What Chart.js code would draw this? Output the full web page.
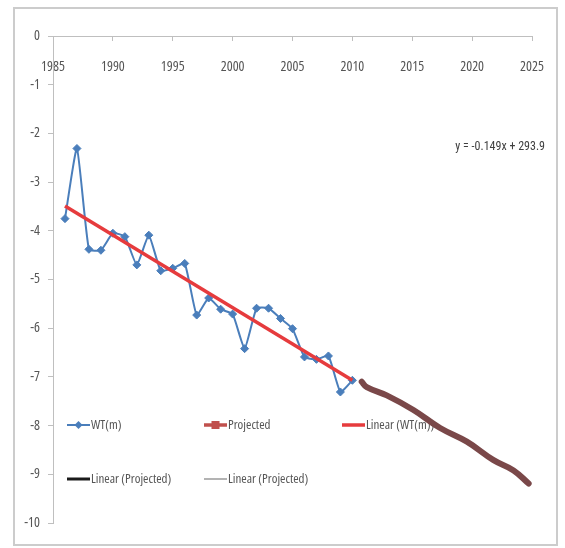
<!DOCTYPE html>
<html>
<head>
<meta charset="utf-8">
<script src="https://cdn.jsdelivr.net/npm/chart.js@4.4.1/dist/chart.umd.min.js"></script>
<style>
  html, body { margin: 0; padding: 0; background: #ffffff; }
  #wrap { width: 565px; height: 548px; }
</style>
</head>
<body>
<div id="wrap"><canvas id="c" width="565" height="548"></canvas></div>
<script>
// Water table depth (m) by year
const wtYears = [1986, 1987, 1988, 1989, 1990, 1991, 1992, 1993, 1994, 1995, 1996, 1997, 1998,
                 1999, 2000, 2001, 2002, 2003, 2004, 2005, 2006, 2007, 2008, 2009, 2010];
const wtValues = [-3.75, -2.31, -4.38, -4.40, -4.05, -4.12, -4.70, -4.09, -4.82, -4.77, -4.67, -5.73, -5.38,
                  -5.61, -5.71, -6.42, -5.59, -5.59, -5.80, -6.01, -6.59, -6.64, -6.57, -7.31, -7.07];

// Linear trend of WT(m), end points
const trendYears = [1986, 2010];
const trendValues = [-3.49, -7.07];

// Hand-sketched projection to 2025
const projYears = [2010.78, 2011.2, 2012.87, 2015.1, 2017.33, 2019.56, 2021.79, 2023.46, 2024.72];
const projValues = [-7.10, -7.21, -7.38, -7.68, -8.05, -8.33, -8.71, -8.92, -9.19];

// Axis ticks
const xTicks = [1985, 1990, 1995, 2000, 2005, 2010, 2015, 2020, 2025];
const yTicks = [0, -1, -2, -3, -4, -5, -6, -7, -8, -9, -10];

const equationText = 'y = -0.149x + 293.9';

const FAMILY = '"Open Sans", sans-serif';
const LEGEND_FONT = 'condensed 13px ' + FAMILY;
const EQ_FONT = 'condensed 12px Roboto, sans-serif';
const BLUE = '#4a7ebb';
const RED = '#e63b3d';
const BROWN = '#7a4849';
const TEXT = '#555555';

const toPoints = (xs, ys) => xs.map((x, i) => ({ x: x, y: ys[i] }));

// Legend entries drawn inside the plot area (two columns)
const legendItems = [
  { text: 'WT(m)', x: 67, y: 425, color: BLUE, width: 2, marker: 'diamond' },
  { text: 'Projected', x: 204, y: 425, color: '#c0504d', width: 3.5, marker: 'square' },
  { text: 'Linear (WT(m))', x: 342, y: 425, color: RED, width: 3.5, marker: null },
  { text: 'Linear (Projected)', x: 67, y: 479, color: '#1a1a1a', width: 3, marker: null },
  { text: 'Linear (Projected)', x: 204, y: 479, color: '#9a9a9a', width: 1.5, marker: null }
];

const framePlugin = {
  id: 'frame',
  beforeDraw(chart) {
    const ctx = chart.ctx;
    ctx.save();
    ctx.fillStyle = '#ffffff';
    ctx.fillRect(0, 0, chart.width, chart.height);
    ctx.strokeStyle = '#cccccc';
    ctx.lineWidth = 2;
    ctx.strokeRect(14, 8, 543, 537);
    ctx.restore();
  },
  beforeDatasetsDraw(chart) {
    const ctx = chart.ctx;
    ctx.save();
    ctx.font = LEGEND_FONT;
    ctx.textBaseline = 'middle';
    legendItems.forEach(it => {
      ctx.strokeStyle = it.color;
      ctx.lineWidth = it.width;
      ctx.beginPath();
      ctx.moveTo(it.x, it.y);
      ctx.lineTo(it.x + 23, it.y);
      ctx.stroke();
      const cx = it.x + 11.5;
      ctx.fillStyle = it.color;
      if (it.marker === 'diamond') {
        ctx.beginPath();
        ctx.moveTo(cx, it.y - 4);
        ctx.lineTo(cx + 4, it.y);
        ctx.lineTo(cx, it.y + 4);
        ctx.lineTo(cx - 4, it.y);
        ctx.closePath();
        ctx.fill();
      } else if (it.marker === 'square') {
        ctx.fillRect(cx - 4, it.y - 4, 8, 8);
      }
      ctx.fillStyle = TEXT;
      ctx.textAlign = 'left';
      ctx.fillText(it.text, it.x + 24, it.y);
    });
    ctx.font = EQ_FONT;
    ctx.fillStyle = '#404040';
    ctx.textAlign = 'right';
    ctx.fillText(equationText, 545, 147);
    ctx.restore();
  }
};

new Chart(document.getElementById('c'), {
  type: 'line',
  data: {
    datasets: [
      {
        label: 'Projected',
        data: toPoints(projYears, projValues),
        borderColor: BROWN,
        borderWidth: 6,
        borderCapStyle: 'round',
        borderJoinStyle: 'round',
        pointRadius: 0,
        tension: 0.4,
        order: 0
      },
      {
        label: 'Linear (WT(m))',
        data: toPoints(trendYears, trendValues),
        borderColor: RED,
        borderWidth: 3.5,
        pointRadius: 0,
        order: 1
      },
      {
        label: 'WT(m)',
        data: toPoints(wtYears, wtValues),
        borderColor: BLUE,
        backgroundColor: BLUE,
        borderWidth: 2,
        pointStyle: 'rectRot',
        pointRadius: 4,
        pointBorderWidth: 1,
        tension: 0.15,
        order: 2
      }
    ]
  },
  options: {
    responsive: false,
    animation: false,
    layout: { autoPadding: false, padding: { left: 13, right: 33, top: 36, bottom: 25 } },
    plugins: { legend: { display: false }, tooltip: { enabled: false } },
    scales: {
      x: {
        type: 'linear',
        position: { y: 0 },
        min: 1985,
        max: 2025,
        afterBuildTicks: s => { s.ticks = xTicks.map(v => ({ value: v })); },
        grid: { drawOnChartArea: false, tickLength: 4, color: '#bfbfbf' },
        border: { color: '#bfbfbf', width: 1 },
        ticks: {
          padding: 19,
          color: TEXT,
          font: { family: FAMILY, size: 14, weight: 'condensed' },
          callback: v => String(v),
          maxRotation: 0
        }
      },
      y: {
        type: 'linear',
        position: 'left',
        min: -10,
        max: 0,
        afterBuildTicks: s => { s.ticks = yTicks.map(v => ({ value: v })); },
        afterFit: s => { s.width = 40; },
        grid: { drawOnChartArea: false, tickLength: 5, color: '#bfbfbf' },
        border: { color: '#bfbfbf', width: 1 },
        ticks: {
          padding: 8,
          color: TEXT,
          font: { family: FAMILY, size: 14, weight: 'condensed' },
          callback: v => String(v)
        }
      }
    }
  },
  plugins: [framePlugin]
});
</script>
</body>
</html>
